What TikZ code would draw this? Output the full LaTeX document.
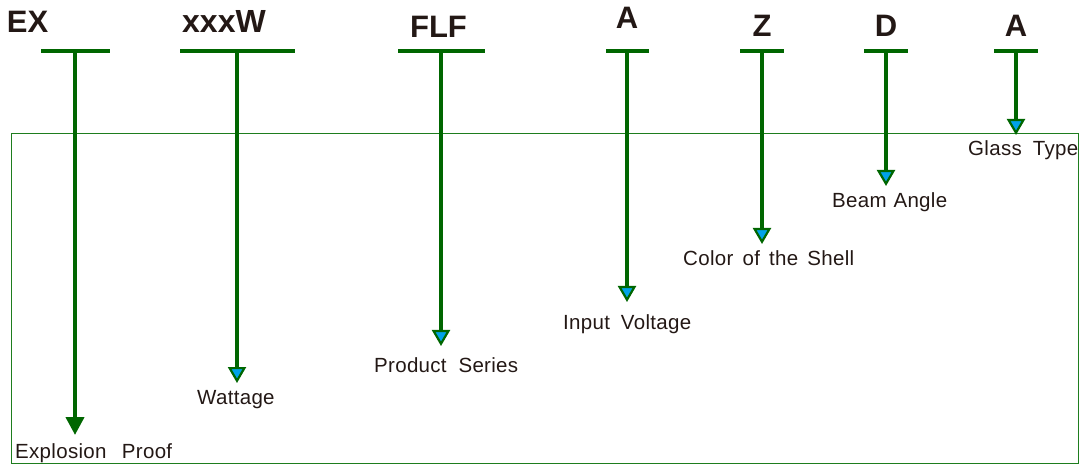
\documentclass[tikz,border=0pt]{standalone}
\usepackage{fontspec}
\setmainfont{Liberation Sans}
\usetikzlibrary{arrows.meta}
\definecolor{stemgreen}{RGB}{0,102,0}
\definecolor{framegreen}{RGB}{30,125,30}
\definecolor{tipblue}{RGB}{0,162,232}
\definecolor{inkblack}{RGB}{35,24,21}
\tikzset{
  codelabel/.style={anchor=base, inner sep=0pt, text=inkblack, font=\fontsize{31}{33}\selectfont\bfseries},
  desclabel/.style={anchor=base west, inner sep=0pt, text=inkblack, font=\fontsize{20.5}{22}\selectfont\addfontfeatures{LetterSpace=1.5}},
  bar/.style={draw=stemgreen, line width=4pt},
  stemarrow/.style={draw=stemgreen, line width=4pt, -{Triangle[length=16pt,width=18pt,line width=2.2pt,fill=tipblue]}},
  stemsolid/.style={draw=stemgreen, line width=4pt, -{Triangle[length=18pt,width=18pt]}},
  frame/.style={draw=framegreen, line width=1.4pt}
}
\begin{document}
\begin{tikzpicture}[x=1pt,y=-1pt]
\useasboundingbox (0,0) rectangle (1080,465);
\node[frame, anchor=north west, minimum width=1067pt, minimum height=330pt, inner sep=0pt] (box) at (11,133) {};
% code letters
\node[codelabel] (cEX) at (27.5,33) {EX};
\node[codelabel] (cW) at (224,33) {\fontsize{32}{34}\selectfont xxxW};
\node[codelabel] (cF) at (438.5,38) {FLF};
\node[codelabel] (cA1) at (627,29) {A};
\node[codelabel] (cZ) at (762,37) {Z};
\node[codelabel] (cD) at (886,37) {D};
\node[codelabel] (cA2) at (1016,37) {A};
% bars
\coordinate (bEXl) at (41,51); \coordinate (bEXr) at (110,51); \coordinate (bEX) at (75,51);
\coordinate (bWl) at (180,51); \coordinate (bWr) at (295,51); \coordinate (bW) at (237,51);
\coordinate (bFl) at (398,51); \coordinate (bFr) at (485,51); \coordinate (bF) at (441,51);
\coordinate (bA1l) at (606,51); \coordinate (bA1r) at (649,51); \coordinate (bA1) at (627,51);
\coordinate (bZl) at (740,51); \coordinate (bZr) at (784,51); \coordinate (bZ) at (762,51);
\coordinate (bDl) at (864,51); \coordinate (bDr) at (908,51); \coordinate (bD) at (886,51);
\coordinate (bA2l) at (994,51); \coordinate (bA2r) at (1038,51); \coordinate (bA2) at (1016,51);
% tips
\coordinate (tEX) at (75,435);
\coordinate (tW) at (237,383);
\coordinate (tF) at (441,346);
\coordinate (tA1) at (627,302);
\coordinate (tZ) at (762,244);
\coordinate (tD) at (886,186);
\coordinate (tA2) at (1016,135);
% descriptions
\node[desclabel] (dEX) at (15,458) {\makebox[157pt][s]{Explosion Proof}};
\node[desclabel] (dW) at (197,404) {Wattage};
\node[desclabel] (dF) at (374,372) {\makebox[144pt][s]{Product Series}};
\node[desclabel] (dA1) at (563,330) {\makebox[128pt][s]{Input Voltage}};
\node[desclabel] (dZ) at (683,266) {\makebox[171pt][s]{Color of the Shell}};
\node[desclabel] (dD) at (832,208) {\makebox[115pt][s]{Beam Angle}};
\node[desclabel] (dA2) at (968,156) {\makebox[110pt][s]{Glass Type}};
% bars and stems
\foreach \n in {EX,W,F,A1,Z,D,A2} {\draw[bar] (b\n l) -- (b\n r);}
\draw[stemsolid] (bEX) -- (tEX);
\foreach \n in {W,F,A1,Z,D,A2} {\draw[stemarrow] (b\n) -- (t\n);}
\end{tikzpicture}
\end{document}
